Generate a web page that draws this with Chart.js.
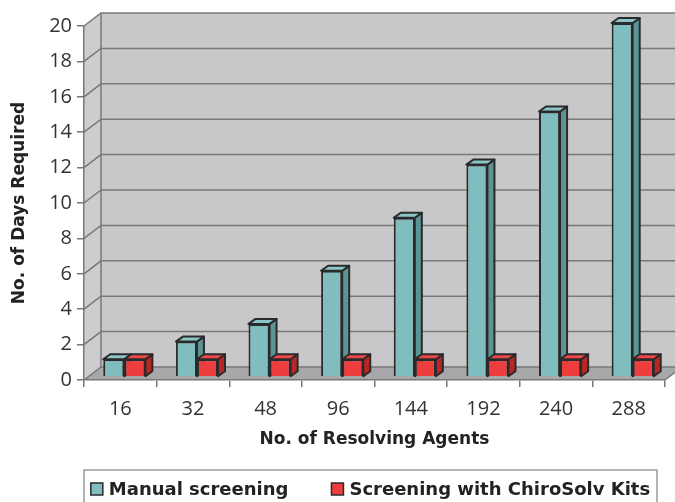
<!DOCTYPE html>
<html>
<head>
<meta charset="utf-8">
<script src="https://cdn.jsdelivr.net/npm/chart.js@4.4.1/dist/chart.umd.min.js"></script>
<style>
  html, body { margin: 0; padding: 0; background: #fff; }
  #wrap { width: 675px; height: 502px; }
</style>
</head>
<body>
<div id="wrap"><canvas id="chart"></canvas></div>
<script>
// data
const agents = ['16', '32', '48', '96', '144', '192', '240', '288'];
const manualDays = [1, 2, 3, 6, 9, 12, 15, 20];
const kitDays = [1, 1, 1, 1, 1, 1, 1, 1];
const yMax = 20;
const yStep = 2;

// 3d look
const DX = 17, DY = 13;        // depth of the walls
const SX = 4, SY = 3;          // bars sit a little behind the front edge
const BX = 7, BY = 5;          // depth of one bar
const EDGE = '#2a2a2a';
const BOLD = '"DejaVu Sans"';
const faceColors = [
  { side: '#5a9494', top: '#8cc6c6' },
  { side: '#b82626', top: '#f04848' }
];

function poly(ctx, pts, fill, stroke, lw) {
  ctx.beginPath();
  ctx.moveTo(pts[0][0], pts[0][1]);
  for (let i = 1; i < pts.length; i++) ctx.lineTo(pts[i][0], pts[i][1]);
  ctx.closePath();
  if (fill) { ctx.fillStyle = fill; ctx.fill(); }
  if (stroke) { ctx.strokeStyle = stroke; ctx.lineWidth = lw || 1; ctx.stroke(); }
}

function drawFaces(chart, idx) {
  const ctx = chart.ctx;
  const meta = chart.getDatasetMeta(idx);
  const c = faceColors[idx];
  meta.data.forEach(bar => {
    const { x, y, base, width } = bar.getProps(['x', 'y', 'base', 'width'], true);
    const l = x - width / 2, r = x + width / 2;
    ctx.lineJoin = 'round';
    poly(ctx, [[r, y], [r + BX, y - BY], [r + BX, base - BY], [r, base]], c.side, EDGE, 2);
    poly(ctx, [[l, y], [l + BX, y - BY], [r + BX, y - BY], [r, y]], c.top, EDGE, 2);
  });
}

const threeD = {
  id: 'threeD',
  beforeDraw(chart) {
    const { ctx, chartArea: a, scales: { y } } = chart;
    ctx.save();
    // floor, side wall, back wall
    poly(ctx, [[a.left, a.bottom], [a.right, a.bottom], [a.right + DX, a.bottom - DY], [a.left + DX, a.bottom - DY]], '#a8a8aa');
    poly(ctx, [[a.left, a.bottom], [a.left, a.top], [a.left + DX, a.top - DY], [a.left + DX, a.bottom - DY]], '#cdcdcf');
    ctx.fillStyle = '#c8c8ca';
    ctx.fillRect(a.left + DX, a.top - DY, a.right - a.left, a.bottom - a.top);
    // grid on the walls
    ctx.strokeStyle = '#78787a';
    ctx.lineWidth = 1.5;
    y.ticks.forEach(t => {
      const py = y.getPixelForValue(t.value);
      ctx.beginPath();
      ctx.moveTo(a.left, py);
      ctx.lineTo(a.left + DX, py - DY);
      ctx.lineTo(a.right + DX, py - DY);
      ctx.stroke();
    });
    ctx.beginPath();
    ctx.moveTo(a.left + DX, a.top - DY);
    ctx.lineTo(a.left + DX, a.bottom - DY);
    ctx.moveTo(a.right, a.bottom);
    ctx.lineTo(a.right + DX, a.bottom - DY);
    ctx.stroke();
    ctx.restore();
  },
  beforeDatasetsDraw(chart) {
    chart.ctx.save();
    chart.ctx.translate(SX, -SY);
    drawFaces(chart, 0);
  },
  afterDatasetsDraw(chart) {
    drawFaces(chart, 1);
    chart.ctx.restore();
  },
  afterDraw(chart) {
    // legend in a frame under the axis title
    const { ctx, chartArea: a } = chart;
    const top = chart.scales.x.bottom;
    const left = a.left, right = a.right - 8;
    ctx.save();
    ctx.strokeStyle = '#9a9a9a';
    ctx.lineWidth = 1.5;
    ctx.strokeRect(left, top, right - left, 60);
    ctx.font = 'bold 18px ' + BOLD;
    ctx.textBaseline = 'middle';
    const box = 12, gapText = 6, gapItem = 43;
    const items = chart.data.datasets.map(ds => ({ text: ds.label, color: ds.backgroundColor }));
    let total = 0;
    items.forEach((it, i) => {
      it.w = ctx.measureText(it.text).width;
      total += box + gapText + it.w + (i ? gapItem : 0);
    });
    let x = (left + right) / 2 - total / 2;
    const cy = top + 19;
    items.forEach(it => {
      ctx.fillStyle = it.color;
      ctx.fillRect(x, cy - box / 2, box, box);
      ctx.strokeStyle = EDGE;
      ctx.lineWidth = 1.5;
      ctx.strokeRect(x, cy - box / 2, box, box);
      ctx.fillStyle = '#222';
      ctx.fillText(it.text, x + box + gapText, cy + 1);
      x += box + gapText + it.w + gapItem;
    });
    ctx.restore();
  }
};

new Chart(document.getElementById('chart'), {
  type: 'bar',
  data: {
    labels: agents,
    datasets: [
      {
        label: 'Manual screening',
        data: manualDays,
        backgroundColor: '#7fbdbe',
        borderColor: EDGE,
        borderWidth: 2
      },
      {
        label: 'Screening with ChiroSolv Kits',
        data: kitDays,
        backgroundColor: '#ee3d3d',
        borderColor: EDGE,
        borderWidth: 2
      }
    ]
  },
  plugins: [threeD],
  options: {
    responsive: true,
    maintainAspectRatio: false,
    animation: false,
    clip: false,
    categoryPercentage: 0.58,
    barPercentage: 1,
    layout: { padding: { top: 26, right: 10, bottom: 32, left: 0 } },
    plugins: {
      legend: { display: false },
      tooltip: { enabled: false }
    },
    scales: {
      x: {
        grid: { drawOnChartArea: false, tickLength: 7, color: '#78787a', lineWidth: 1.5 },
        border: { display: true, color: '#78787a', width: 1.5 },
        ticks: { color: '#333', padding: 10, font: { family: 'Open Sans', size: 20 } },
        title: {
          display: true,
          text: 'No. of Resolving Agents',
          color: '#222',
          padding: { top: 0, bottom: 20 },
          font: { family: BOLD, size: 17, weight: 'bold' }
        },
        afterFit(scale) { scale.height = 90; }
      },
      y: {
        min: 0,
        max: yMax,
        grid: { drawOnChartArea: false, tickLength: 7, color: '#78787a', lineWidth: 1.5 },
        border: { display: true, color: '#78787a', width: 1.5 },
        ticks: { stepSize: yStep, color: '#333', padding: 5, font: { family: 'Open Sans', size: 20 } },
        title: {
          display: true,
          text: 'No. of Days Required',
          color: '#222',
          padding: { top: 9, bottom: 0 },
          font: { family: BOLD, size: 17, weight: 'bold' }
        },
        afterFit(scale) { scale.width = 84; }
      }
    }
  }
});
</script>
</body>
</html>
